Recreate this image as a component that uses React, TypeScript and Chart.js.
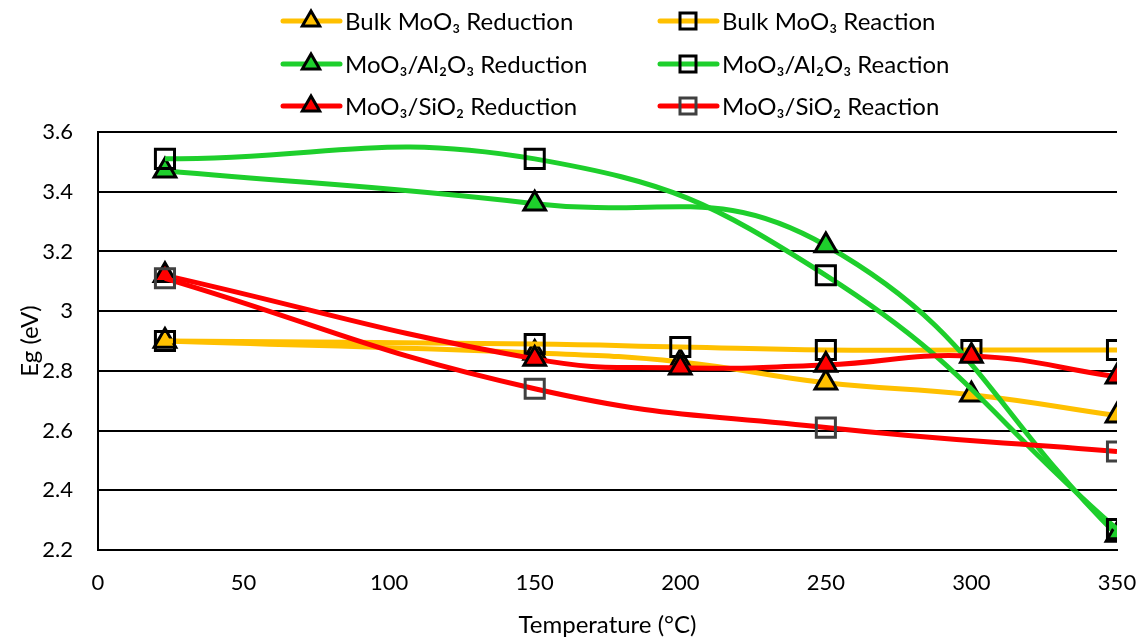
import React, { useEffect, useRef } from "react";
import { Chart, registerables } from "chart.js";

Chart.register(...registerables);

// Temperatures (°C) and band gap values (eV) for each series
const bulkRedT = [23, 150, 200, 250, 300, 350];
const bulkRedEg = [2.9, 2.86, 2.83, 2.76, 2.72, 2.65];

const bulkReactT = [23, 150, 200, 250, 300, 350];
const bulkReactEg = [2.9, 2.89, 2.88, 2.87, 2.87, 2.87];

const alRedT = [23, 150, 250, 350];
const alRedEg = [3.47, 3.36, 3.22, 2.25];

const alReactT = [23, 150, 250, 350];
const alReactEg = [3.51, 3.51, 3.12, 2.27];

const siRedT = [23, 150, 200, 250, 300, 350];
const siRedEg = [3.12, 2.84, 2.81, 2.82, 2.85, 2.78];

const siReactT = [23, 150, 250, 350];
const siReactEg = [3.11, 2.74, 2.61, 2.53];

const seriesNames = [
  "Bulk MoO₃ Reduction",
  "Bulk MoO₃ Reaction",
  "MoO₃/Al₂O₃ Reduction",
  "MoO₃/Al₂O₃ Reaction",
  "MoO₃/SiO₂ Reduction",
  "MoO₃/SiO₂ Reaction",
];

const xTitle = "Temperature (°C)";
const yTitle = "Eg (eV)";

const ORANGE = "#FFC000";
const GREEN = "#1ECF2C";
const RED = "#FF0000";
const FONT = "Lato";

const toPoints = (t: number[], v: number[]) => t.map((x, i) => ({ x, y: v[i] }));

// Two-column legend drawn above the plot
const LEGEND_X = [283, 660];
const LEGEND_Y = [21, 64, 106];

const gridLegend = {
  id: "gridLegend",
  afterDraw(chart: any) {
    const ctx: CanvasRenderingContext2D = chart.ctx;
    chart.data.datasets.forEach((ds: any, i: number) => {
      const col = i % 2;
      const row = Math.floor(i / 2);
      const x0 = LEGEND_X[col];
      const y = LEGEND_Y[row];
      const cx = x0 + 28;
      ctx.save();
      ctx.strokeStyle = ds.borderColor;
      ctx.lineWidth = 5;
      ctx.lineCap = "round";
      ctx.beginPath();
      ctx.moveTo(x0, y);
      ctx.lineTo(x0 + 57, y);
      ctx.stroke();

      ctx.lineWidth = 3;
      ctx.lineCap = "butt";
      ctx.lineJoin = "miter";
      ctx.strokeStyle = ds.pointBorderColor;
      ctx.fillStyle = ds.pointBackgroundColor;
      ctx.beginPath();
      if (ds.pointStyle === "triangle") {
        const r = 10;
        ctx.moveTo(cx, y - r);
        ctx.lineTo(cx + r * 0.866, y + r * 0.5);
        ctx.lineTo(cx - r * 0.866, y + r * 0.5);
        ctx.closePath();
      } else {
        const h = 8;
        ctx.rect(cx - h, y - h, 2 * h, 2 * h);
      }
      ctx.fill();
      ctx.stroke();

      ctx.fillStyle = "#000";
      ctx.font = `24px ${FONT}`;
      ctx.textBaseline = "middle";
      ctx.textAlign = "left";
      ctx.fillText(ds.label, x0 + 62, y + 1);
      ctx.restore();
    });
  },
};

function makeDataset(
  label: string,
  t: number[],
  v: number[],
  color: string,
  style: "triangle" | "rect",
  markerBorder: string,
  order: number
) {
  const tri = style === "triangle";
  return {
    label,
    data: toPoints(t, v),
    borderColor: color,
    backgroundColor: color,
    borderWidth: 5,
    tension: 0.45,
    pointStyle: style,
    pointRadius: tri ? 12.5 : 13.5,
    pointHoverRadius: tri ? 12.5 : 13.5,
    pointBorderWidth: 3,
    pointBorderColor: markerBorder,
    pointBackgroundColor: tri ? color : "rgba(0,0,0,0)",
    showLine: true,
    fill: false,
    order,
  };
}

export default function App() {
  const canvasRef = useRef<HTMLCanvasElement | null>(null);

  useEffect(() => {
    if (!canvasRef.current) return;
    const chart = new Chart(canvasRef.current, {
      type: "line",
      data: {
        datasets: [
          makeDataset(seriesNames[0], bulkRedT, bulkRedEg, ORANGE, "triangle", "#000", 6),
          makeDataset(seriesNames[1], bulkReactT, bulkReactEg, ORANGE, "rect", "#000", 5),
          makeDataset(seriesNames[2], alRedT, alRedEg, GREEN, "triangle", "#000", 4),
          makeDataset(seriesNames[3], alReactT, alReactEg, GREEN, "rect", "#000", 3),
          makeDataset(seriesNames[4], siRedT, siRedEg, RED, "triangle", "#000", 2),
          makeDataset(seriesNames[5], siReactT, siReactEg, RED, "rect", "#404040", 1),
        ],
      },
      options: {
        animation: false,
        responsive: true,
        maintainAspectRatio: false,
        layout: { padding: { top: 132, right: 25, left: 0, bottom: 0 } },
        plugins: {
          legend: { display: false },
          tooltip: { enabled: false },
        },
        scales: {
          x: {
            type: "linear",
            min: 0,
            max: 350,
            ticks: {
              stepSize: 50,
              color: "#000",
              font: { family: FONT, size: 22 },
              padding: 20,
            },
            grid: { display: false, drawTicks: false },
            border: { display: true, color: "#000", width: 2 },
            title: {
              display: true,
              text: xTitle,
              color: "#000",
              font: { family: FONT, size: 24 },
              padding: { top: 0, bottom: -2 },
            },
            afterFit: (s: any) => {
              s.height = 88;
              s.paddingLeft = 0;
              s.paddingRight = 0;
            },
          },
          y: {
            min: 2.2,
            max: 3.6,
            ticks: {
              stepSize: 0.2,
              color: "#000",
              font: { family: FONT, size: 22 },
              padding: 25,
              callback: (v: any) => String(Number(Number(v).toFixed(1))),
            },
            grid: { color: "#000", lineWidth: 2, drawTicks: false },
            border: { display: true, color: "#000", width: 2 },
            title: {
              display: true,
              text: yTitle,
              color: "#000",
              font: { family: FONT, size: 24 },
              padding: { top: 16, bottom: 0 },
            },
            afterFit: (s: any) => {
              s.width = 98;
              s.paddingTop = 0;
              s.paddingBottom = 0;
            },
          },
        },
      },
      plugins: [gridLegend],
    });
    return () => chart.destroy();
  }, []);

  return (
    <div style={{ position: "absolute", left: 0, top: 0, width: 1142, height: 638, background: "#fff" }}>
      <canvas ref={canvasRef} />
    </div>
  );
}
